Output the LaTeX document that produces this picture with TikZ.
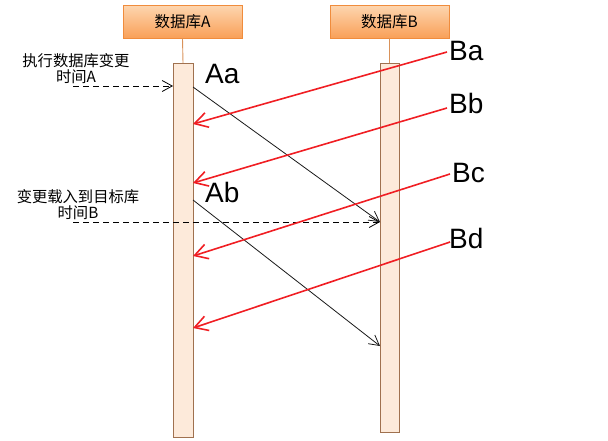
\documentclass[tikz,border=0pt]{standalone}
\usepackage{fontspec}
\setmainfont{Liberation Sans}
\newfontfamily\cjk{Noto Sans CJK SC}
\usetikzlibrary{arrows.meta}
\definecolor{boxtop}{HTML}{FDD6B0}
\definecolor{boxbot}{HTML}{F9A058}
\definecolor{boxline}{HTML}{F08C3C}
\definecolor{lifeline}{HTML}{D9925A}
\definecolor{barfill}{HTML}{FDEADA}
\definecolor{barline}{HTML}{A0714F}
\definecolor{msgred}{HTML}{F01E23}
\begin{document}
\begin{tikzpicture}[x=1pt,y=-1pt,
  dbbox/.style={draw=boxline,top color=boxtop,bottom color=boxbot,minimum width=119pt,minimum height=33pt,inner sep=0pt,font=\cjk\fontsize{15.5}{17}\selectfont},
  actbar/.style={draw=barline,fill=barfill,line width=0.9pt},
  tag/.style={anchor=base west,inner sep=0pt,font=\fontsize{28}{30}\selectfont},
  note/.style={align=center,inner sep=0pt,font=\cjk\fontsize{15.3}{16}\selectfont},
  send/.style={-{Straight Barb[length=10pt,width=11pt]},black!90,line width=0.8pt},
  timemark/.style={-{Straight Barb[length=10pt,width=11pt]},black,line width=0.8pt,dash pattern=on 6pt off 4pt},
  back/.style={-{Straight Barb[length=13pt,width=15pt]},msgred,line width=1.6pt}]
\useasboundingbox (0,0) rectangle (608,440);
% databases
\node[dbbox] (dbA) at (182.5,21.5) {数据库A};
\node[dbbox] (dbB) at (389.5,21.5) {数据库B};
\draw[actbar] (173,63) rectangle (193,437);
\draw[actbar] (380,63) rectangle (399,432);
\draw[lifeline,line width=0.9pt] (dbA.south) -- (183,63);
\draw[lifeline,line width=0.9pt] (dbB.south) -- (389.5,63);
% time marks
\node[note] (tA) at (76,69) {执行数据库变更\\时间A};
\node[note] (tB) at (78,205) {变更载入到目标库\\时间B};
\coordinate (mA0) at (73,86);
\coordinate (mA1) at (173,86);
\coordinate (mB0) at (73,222);
\coordinate (mB1) at (380,222);
\draw[timemark] (mA0)--(mA1);
\draw[timemark] (mB0)--(mB1);
% changes from A
\coordinate (aa0) at (193,87);
\coordinate (aa1) at (380,222);
\coordinate (ab0) at (193,200);
\coordinate (ab1) at (380,346);
\draw[send] (aa0)--(aa1);
\draw[send] (ab0)--(ab1);
\node[tag] (Aa) at (205,83) {Aa};
\node[tag] (Ab) at (205,202) {Ab};
% changes from B
\node[tag] (Ba) at (449,60) {Ba};
\node[tag] (Bb) at (449,113) {Bb};
\node[tag] (Bc) at (452,182) {Bc};
\node[tag] (Bd) at (449,248) {Bd};
\coordinate (ba0) at (447,52);
\coordinate (ba1) at (193,124);
\coordinate (bb0) at (447,108);
\coordinate (bb1) at (193,183);
\coordinate (bc0) at (450,174);
\coordinate (bc1) at (193,256);
\coordinate (bd0) at (450,242);
\coordinate (bd1) at (193,328);
\draw[back] (ba0)--(ba1);
\draw[back] (bb0)--(bb1);
\draw[back] (bc0)--(bc1);
\draw[back] (bd0)--(bd1);
\end{tikzpicture}
\end{document}
